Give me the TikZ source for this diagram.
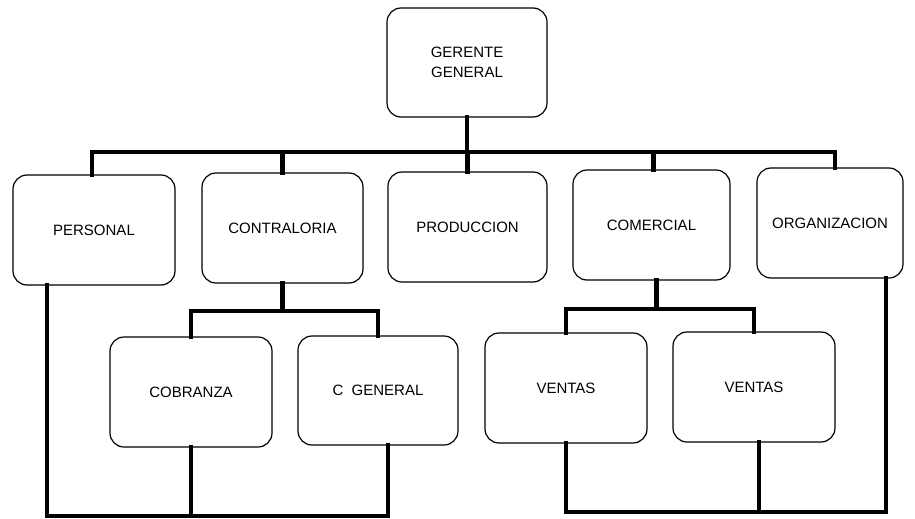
\documentclass[tikz,border=0pt]{standalone}
\usepackage{fontspec}
\setmainfont{Liberation Sans}
\begin{document}
\begin{tikzpicture}[x=1pt,y=-1pt,
  unit/.style={draw=black, line width=1.2pt, rounded corners=14pt,
    minimum width=160pt, minimum height=110pt, inner sep=0pt,
    align=center, font=\fontsize{15}{20}\selectfont},
  link/.style={draw=black, line width=4.5pt, line cap=rect, line join=miter}]
\useasboundingbox (0,0) rectangle (915,519);

% boxes
\node[unit, minimum height=109pt] (gg)   at (467,62.5)  {GERENTE\\GENERAL};
\node[unit, minimum width=162pt] (per)   at (94,230)    {PERSONAL};
\node[unit, minimum width=161pt] (con)   at (282.5,228) {CONTRALORIA};
\node[unit, minimum width=159pt] (pro)   at (467.5,227) {PRODUCCION};
\node[unit, minimum width=157pt] (com)   at (651.5,225) {COMERCIAL};
\node[unit, minimum width=146pt] (org)   at (830,223)   {ORGANIZACION};
\node[unit, minimum width=162pt] (cob)   at (191,392)   {COBRANZA};
\node[unit, minimum height=109pt] (cgen) at (378,390.5) {C\ \ GENERAL};
\node[unit, minimum width=162pt] (v1)    at (566,388)   {VENTAS};
\node[unit, minimum width=162pt] (v2)    at (754,387)   {VENTAS};

% bus levels
\coordinate (bus)  at (467,152);
\coordinate (sbl)  at (282,311);
\coordinate (sbr)  at (657,309);
\coordinate (lb)   at (192,516);
\coordinate (rb)   at (757,512);

% top level
\draw[link] (gg.south) -- (gg.south |- bus);
\draw[link] ([xshift=-2pt]per.north) |- (bus) -| ([xshift=5pt]org.north);
\draw[link] (con.north) -- (con.north |- bus);
\draw[link] (pro.north) -- (pro.north |- bus);
\draw[link] ([xshift=2pt]com.north) -- ([xshift=2pt]com.north |- bus);

% contraloria branch
\draw[link] (con.south) -- (con.south |- sbl);
\draw[link] (cob.north) |- (sbl) -| (cgen.north);

% comercial branch
\draw[link] ([xshift=5pt]com.south) -- ([xshift=5pt]com.south |- sbr);
\draw[link] (v1.north) |- (sbr) -| (v2.north);

% lower returns
\draw[link] ([xshift=-47pt]per.south) |- (lb) -| ([xshift=10pt]cgen.south);
\draw[link] (cob.south) -- (cob.south |- lb);
\draw[link] (v1.south) |- (rb) -| ([xshift=56pt]org.south);
\draw[link] ([xshift=5pt]v2.south) -- ([xshift=5pt]v2.south |- rb);
\end{tikzpicture}
\end{document}
